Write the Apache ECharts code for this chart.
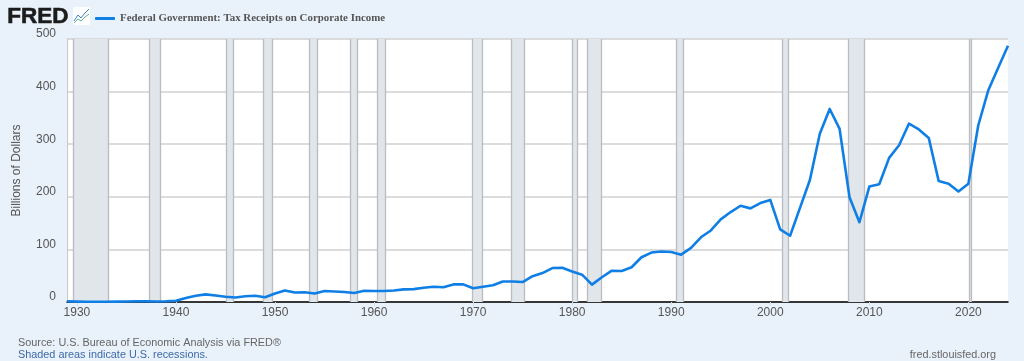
<!DOCTYPE html>
<html>
<head>
<meta charset="utf-8">
<style>html,body{margin:0;padding:0;background:#e9f1fa}#c{width:1024px;height:361px}</style>
<script src="https://cdn.jsdelivr.net/npm/echarts@6/dist/echarts.min.js"></script>
</head>
<body>
<div id="c"></div>
<script>
const startYear = 1929;
const receipts = [1.4,0.8,0.5,0.4,0.5,0.7,1.0,1.4,1.5,1.0,1.4,2.5,7.5,12,14.5,12.5,10,8.5,11,12,9,16,22,18,18.5,16,21,20,19,17,21.5,21,21,22,24,24.5,27,29,28,33.5,33.5,26,29,32,39,39,38,49,55,64.5,65,58,52,33,47,59.5,59,66,85,94,96,95,90,103,123,136,157,171,183,178,188,194,138,126,179,232,320,367,329,199,151.6,219.5,224,274,298,339,328,312,230,225,210,225,336,402,445,487];
const seriesName = 'Federal Government: Tax Receipts on Corporate Income';
const yTicks = [0,100,200,300,400,500];
const xTicks = [1930,1940,1950,1960,1970,1980,1990,2000,2010,2020];
const recessions = [[1929.6,1933.2],[1937.3,1938.4],[1945.1,1945.8],[1948.85,1949.75],[1953.5,1954.3],[1957.6,1958.3],[1960.3,1961.1],[1969.9,1970.9],[1973.85,1975.2],[1980.0,1980.5],[1981.5,1982.9],[1990.5,1991.2],[2001.2,2001.85],[2007.9,2009.5],[2020.1,2020.3]];
const points = receipts.map((v,i)=>[startYear+i,v]);
const textColor = '#555';
const sans = '"Liberation Sans",Arial,sans-serif';
const chart = echarts.init(document.getElementById('c'),null,{renderer:'canvas'});
chart.setOption({
  animation:false,
  backgroundColor:'#e9f1fa',
  textStyle:{fontFamily:sans},
  grid:{left:67,right:16,top:39,bottom:59,backgroundColor:'#fff',show:true,borderWidth:0},
  legend:{left:90,top:8,itemWidth:20,itemHeight:3,itemGap:4,icon:'roundRect',
    textStyle:{fontFamily:'"Liberation Serif",serif',fontWeight:'bold',fontSize:10.9,color:'#555'},
    data:[seriesName]},
  xAxis:{type:'value',min:1929,max:2024,
    splitLine:{show:false},
    axisLine:{show:true,onZero:false,lineStyle:{color:'#000',width:1.5}},
    axisTick:{show:true,customValues:xTicks,length:4,inside:false,lineStyle:{color:'#cfe0f2'}},
    axisLabel:{customValues:xTicks,color:textColor,fontSize:12,margin:5,formatter:v=>String(v),hideOverlap:false,showMinLabel:true,showMaxLabel:true}},
  yAxis:{type:'value',min:0,max:500,interval:100,
    name:'Billions of Dollars',nameLocation:'middle',nameGap:44,nameTextStyle:{color:textColor,fontSize:12},
    axisLine:{show:true,lineStyle:{color:'#c8c8c8',width:1}},
    axisTick:{show:false},
    axisLabel:{color:textColor,fontSize:12,margin:11,customValues:yTicks,verticalAlign:'bottom',lineHeight:10},
    splitLine:{show:true,lineStyle:{color:'#d0d0d0',width:1.5}}},
  series:[
    {type:'line',name:seriesName,data:points,showSymbol:false,symbol:'none',
     lineStyle:{color:'#0f7fe6',width:2.6,join:'round'},itemStyle:{color:'#0f7fe6'},z:5,clip:false,
     markArea:{silent:true,z:1,itemStyle:{color:'#e1e6eb',borderWidth:0},
       data:recessions.map(r=>[{xAxis:r[0]},{xAxis:r[1]}])},
     markLine:{silent:true,symbol:'none',z:2,label:{show:false},lineStyle:{color:'#b9bcc0',width:1.3,type:'solid'},
       data:recessions.flat().map(x=>({xAxis:x}))}}
  ],
  graphic:[
    {type:'text',left:7,top:5,style:{text:'FRED',fontFamily:sans,fontWeight:'bold',fontSize:22.5,fill:'#1c1c1c',stroke:'#1c1c1c',lineWidth:0.6}},
    {type:'rect',shape:{x:73,y:7,width:17,height:18,r:2},style:{fill:'#fff'}},
    {type:'polyline',shape:{points:[[74,21],[78,15],[81,18],[85,13],[89,9]]},style:{stroke:'#3b7fd0',fill:null,lineWidth:1}},
    {type:'polyline',shape:{points:[[74,23],[78,19],[81,21],[85,17],[89,14]]},style:{stroke:'#5fb08c',fill:null,lineWidth:1}},
    {type:'text',left:18,top:337,style:{text:'Source: U.S. Bureau of Economic Analysis via FRED®',fontFamily:sans,fontSize:10.85,fill:'#666'}},
    {type:'text',left:18,top:349.5,style:{text:'Shaded areas indicate U.S. recessions.',fontFamily:sans,fontSize:10.85,fill:'#3d6aa8'}},
    {type:'text',right:28,top:349.5,style:{text:'fred.stlouisfed.org',fontFamily:sans,fontSize:10.85,fill:'#666'}}
  ]
});
</script>
</body>
</html>
